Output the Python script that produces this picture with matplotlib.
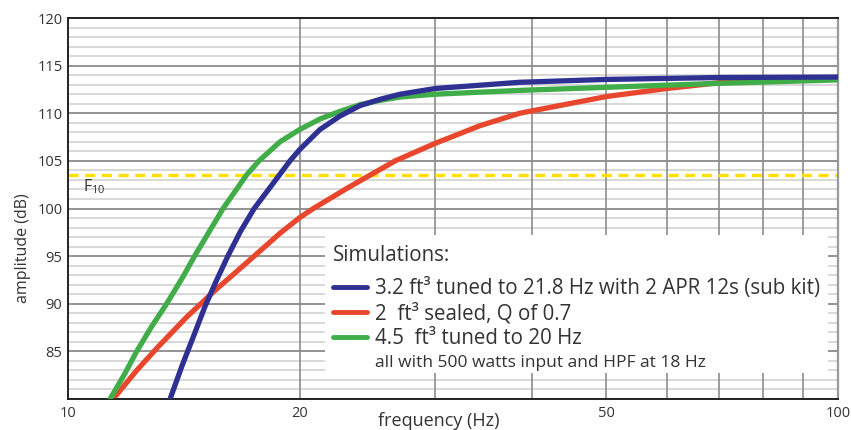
import matplotlib.pyplot as plt
from matplotlib.lines import Line2D
from matplotlib.patches import Rectangle

plt.rcParams["font.family"] = ["Open Sans", "DejaVu Sans"]
plt.rcParams["mathtext.fontset"] = "custom"
plt.rcParams["mathtext.rm"] = "Open Sans"

# curves (Hz, dB)
blue_f = [13.57, 14.05, 14.55, 15.06, 15.6, 16.15, 16.75, 17.45, 18.85, 19.42, 20, 21.25, 22.55,
          23.94, 25.42, 27, 30, 38.6, 50, 70, 100]
blue_db = [80, 83.4, 86.55, 89.7, 92.5, 95.1, 97.6, 100, 103.6, 105, 106.2, 108.3, 109.7,
           110.8, 111.46, 112.0, 112.6, 113.25, 113.55, 113.75, 113.8]

red_f = [11.54, 12.28, 13.1, 14.26, 15.52, 17.06, 18.85, 20, 20.83, 23.01, 24.92, 26.6, 30,
         34.3, 38.6, 50, 60, 70, 80, 90, 100]
red_db = [80.35, 83.0, 85.5, 88.6, 91.4, 94.3, 97.4, 99.05, 100, 102.1, 103.7, 105, 106.85,
          108.7, 110.0, 111.75, 112.6, 113.2, 113.5, 113.65, 113.75]

green_f = [11.34, 11.86, 12.28, 12.84, 13.43, 14.12, 14.6, 15.9, 17.05, 17.7, 18.85, 20,
           21.25, 22.55, 23.94, 25.42, 27, 30, 38.6, 50, 70, 100]
green_db = [80, 82.7, 85, 87.6, 90, 92.9, 95, 100, 103.5, 105, 107.0, 108.3,
            109.4, 110.2, 110.9, 111.35, 111.7, 112.0, 112.4, 112.72, 113.14, 113.5]

f10_level = 103.5

labels = [
    "3.2 ft\u00b3 tuned to 21.8 Hz with 2 APR 12s (sub kit)",
    "2  ft\u00b3 sealed, Q of 0.7",
    "4.5  ft\u00b3 tuned to 20 Hz",
]
note = "all with 500 watts input and HPF at 18 Hz"

BLUE = "#2e3192"
RED = "#e8472d"
GREEN = "#40ad48"
TXT = "#333333"

fig = plt.figure(figsize=(8.51, 4.30), dpi=100)
ax = fig.add_axes([68 / 851, 31 / 430, 770 / 851, 381 / 430])

ax.set_xscale("log")
ax.set_xlim(10, 100)
ax.set_ylim(80, 120)

ax.set_xticks([10, 20, 50, 100])
ax.set_xticklabels(["10", "20", "50", "100"])
ax.set_xticks([30, 40, 60, 70, 80, 90], minor=True)
ax.xaxis.set_minor_formatter(plt.NullFormatter())
ax.set_yticks(range(80, 121, 5))
ax.set_yticklabels([""] + [str(v) for v in range(85, 121, 5)])
ax.set_yticks(range(80, 121), minor=True)

ax.tick_params(which="both", length=0, colors=TXT, labelsize=10.5)
ax.tick_params(axis="x", pad=5)
ax.tick_params(axis="y", pad=4)

ax.set_axisbelow(True)
ax.xaxis.set_zorder(0.6)
ax.grid(axis="y", which="minor", color="#d6d6d6", lw=1.3)
ax.grid(axis="y", which="major", color="#808080", lw=1.2)
ax.grid(axis="x", which="both", color="#8c8c8c", lw=1.2)

for s in ["top", "left", "bottom"]:
    ax.spines[s].set_color("#222222")
    ax.spines[s].set_linewidth(1.4)
ax.spines["right"].set_color("#999999")
ax.spines["right"].set_linewidth(1.6)

# white panel behind the legend
ax.add_patch(Rectangle((0.334, 0.068), 0.653, 0.362, transform=ax.transAxes,
                       facecolor="white", edgecolor="none", zorder=1))

ax.axhline(f10_level, color="#ffdf00", lw=2.4, dashes=(3, 2), zorder=1.5)
ax.text(10.45, 102.3, r"F$_\mathregular{10}$", fontsize=11.5, color=TXT, va="center")

ax.plot(red_f, red_db, color=RED, lw=3.8, solid_capstyle="round", solid_joinstyle="round", zorder=3)
ax.plot(green_f, green_db, color=GREEN, lw=3.8, solid_capstyle="round", solid_joinstyle="round", zorder=3)
ax.plot(blue_f, blue_db, color=BLUE, lw=3.8, solid_capstyle="round", solid_joinstyle="round", zorder=3)

ax.text(0.344, 0.376, "Simulations:", transform=ax.transAxes, fontsize=14.8,
        color=TXT, va="center", ha="left", zorder=5)

handles = [Line2D([], [], color=c, lw=3.5, solid_capstyle="round") for c in (BLUE, RED, GREEN)]
handles.append(Line2D([], [], color="none"))
leg = ax.legend(handles, labels + [note], loc="upper left",
                bbox_to_anchor=(0.344, 0.3176), frameon=False, fontsize=14.8,
                handlelength=1.66, handletextpad=0.39, labelspacing=0.18,
                borderpad=0, borderaxespad=0)
for t in leg.get_texts():
    t.set_color(TXT)
leg.get_texts()[3].set_fontsize(12.5)
leg.set_zorder(5)

ax.set_xlabel("frequency (Hz)", fontsize=13, color=TXT)
ax.xaxis.set_label_coords(0.482, -0.034)
ax.set_ylabel("amplitude (dB)", fontsize=11.5, color=TXT)
ax.yaxis.set_label_coords(-0.0475, 0.395)

fig.savefig("out.png", dpi=100)
